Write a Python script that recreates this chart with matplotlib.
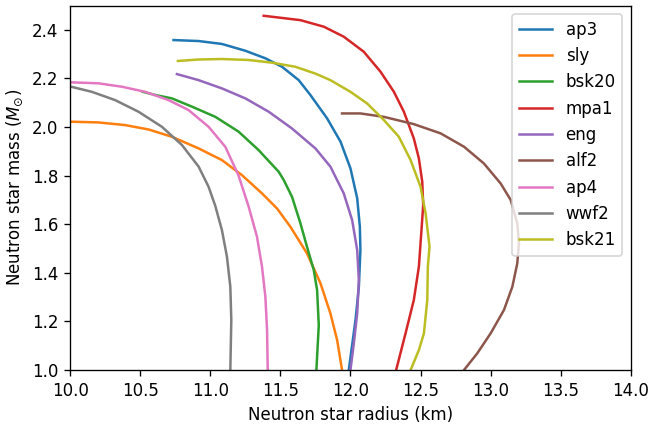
import matplotlib
matplotlib.use("Agg")
import matplotlib.pyplot as plt

# Mass-radius curves (radius in km, mass in solar masses)
ap3_r = [10.738, 10.917, 11.083, 11.25, 11.393, 11.512, 11.631, 11.714, 11.833, 11.929,
         12.0, 12.048, 12.067, 12.071, 12.06, 12.036, 11.988]
ap3_m = [2.358, 2.354, 2.342, 2.314, 2.283, 2.248, 2.193, 2.132, 2.036, 1.94,
         1.83, 1.707, 1.59, 1.494, 1.343, 1.206, 1.0]

sly_r = [9.95, 10.007, 10.202, 10.393, 10.56, 10.726, 10.917, 11.083, 11.226, 11.369,
         11.476, 11.571, 11.69, 11.786, 11.857, 11.905, 11.94]
sly_m = [2.024, 2.022, 2.019, 2.008, 1.99, 1.96, 1.912, 1.864, 1.802, 1.727,
         1.665, 1.59, 1.48, 1.357, 1.233, 1.123, 1.0]

bsk20_r = [10.519, 10.607, 10.726, 10.869, 11.036, 11.202, 11.345, 11.488, 11.524, 11.583,
           11.643, 11.69, 11.738, 11.762, 11.774, 11.757]
bsk20_m = [2.145, 2.132, 2.118, 2.084, 2.042, 1.981, 1.905, 1.816, 1.782, 1.713,
           1.604, 1.507, 1.412, 1.329, 1.185, 1.0]

mpa1_r = [11.381, 11.643, 11.81, 11.952, 12.095, 12.214, 12.31, 12.381, 12.452, 12.488,
          12.512, 12.519, 12.505, 12.488, 12.452, 12.393, 12.326]
mpa1_m = [2.458, 2.44, 2.413, 2.372, 2.31, 2.228, 2.145, 2.063, 1.953, 1.871,
          1.775, 1.679, 1.563, 1.425, 1.288, 1.151, 1.0]

eng_r = [10.762, 10.917, 11.083, 11.25, 11.417, 11.583, 11.75, 11.857, 11.952, 12.012,
         12.048, 12.06, 12.048, 12.024, 12.0]
eng_m = [2.218, 2.193, 2.159, 2.118, 2.063, 1.994, 1.912, 1.837, 1.727, 1.617,
         1.494, 1.37, 1.233, 1.11, 1.0]

alf2_r = [11.94, 12.071, 12.238, 12.452, 12.643, 12.81, 12.952, 13.071, 13.143, 13.19,
          13.202, 13.19, 13.155, 13.095, 13.0, 12.905, 12.81]
alf2_m = [2.056, 2.056, 2.042, 2.012, 1.974, 1.919, 1.85, 1.768, 1.70, 1.604,
          1.521, 1.439, 1.343, 1.247, 1.151, 1.069, 1.0]

ap4_r = [9.95, 10.007, 10.202, 10.369, 10.536, 10.702, 10.845, 10.988, 11.107, 11.202,
         11.274, 11.333, 11.369, 11.393, 11.405, 11.41]
ap4_m = [2.185, 2.184, 2.18, 2.166, 2.145, 2.111, 2.07, 2.001, 1.919, 1.8,
         1.672, 1.549, 1.425, 1.302, 1.165, 1.0]

wwf2_r = [9.95, 10.007, 10.155, 10.321, 10.488, 10.655, 10.798, 10.917, 10.988, 11.036,
          11.083, 11.119, 11.143, 11.15, 11.143]
wwf2_m = [2.172, 2.166, 2.145, 2.111, 2.063, 2.001, 1.926, 1.837, 1.754, 1.675,
          1.576, 1.466, 1.343, 1.206, 1.0]

bsk21_r = [10.769, 10.917, 11.083, 11.274, 11.44, 11.607, 11.75, 11.857, 12.0, 12.119,
           12.238, 12.345, 12.429, 12.5, 12.536, 12.564, 12.552, 12.548, 12.524, 12.488, 12.429]
bsk21_m = [2.272, 2.278, 2.28, 2.276, 2.265, 2.248, 2.22, 2.193, 2.145, 2.097,
           2.029, 1.96, 1.864, 1.754, 1.645, 1.507, 1.425, 1.288, 1.151, 1.082, 1.0]

curves = [
    ("ap3", ap3_r, ap3_m),
    ("sly", sly_r, sly_m),
    ("bsk20", bsk20_r, bsk20_m),
    ("mpa1", mpa1_r, mpa1_m),
    ("eng", eng_r, eng_m),
    ("alf2", alf2_r, alf2_m),
    ("ap4", ap4_r, ap4_m),
    ("wwf2", wwf2_r, wwf2_m),
    ("bsk21", bsk21_r, bsk21_m),
]

DPI = 120
fig = plt.figure(figsize=(649 / DPI, 428 / DPI), dpi=DPI)
ax = fig.add_axes([0.108, 0.1355, 0.864, 0.8515])

for name, r, m in curves:
    ax.plot(r, m, label=name)

ax.set_xlim(10, 14)
ax.set_ylim(1.0, 2.5)
ax.set_xlabel("Neutron star radius (km)")
ax.set_ylabel(r"Neutron star mass ($M_{\odot}$)")
ax.legend(loc="upper right")

fig.savefig("out.png", dpi=DPI)
